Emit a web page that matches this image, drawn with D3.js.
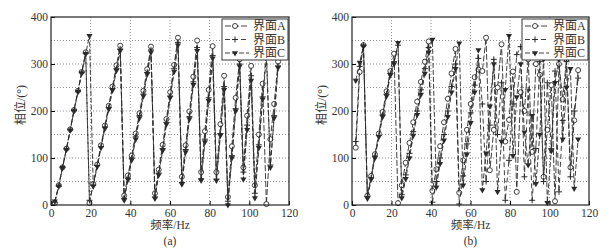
<!DOCTYPE html>
<html>
<head>
<meta charset="utf-8">
<script src="https://cdn.jsdelivr.net/npm/d3@7"></script>
<style>
    body { margin: 0; background: #fff; }
    svg text { font-family: "Liberation Serif", "Noto Sans CJK SC", serif; fill: #333; }
</style>
</head>
<body>
<div id="chart"></div>
<script>
// Frequency points (Hz), shared by both panels.
const FREQ = [1.9, 3.9, 5.8, 7.8, 9.7, 11.6, 13.6, 15.5, 17.5, 19.4,
    21.3, 23.3, 25.2, 27.2, 29.1, 31.0, 33.0, 34.9, 36.9, 38.8,
    40.7, 42.7, 44.6, 46.6, 48.5, 50.4, 52.4, 54.3, 56.3, 58.2,
    60.1, 62.1, 64.0, 66.0, 67.9, 69.8, 71.8, 73.7, 75.7, 77.6,
    79.5, 81.5, 83.4, 85.4, 87.3, 89.2, 91.2, 93.1, 95.1, 97.0,
    98.9, 100.9, 102.8, 104.8, 106.7, 108.6, 110.6, 112.5, 114.5];

// Panel (a) phase values (deg).
const PHASE_A_1 = [4, 42, 80, 120, 161, 202, 243, 283, 325, 4,
    45, 86, 127, 169, 211, 252, 297, 339, 20, 63,
    105, 152, 195, 243, 289, 337, 25, 75, 128, 183,
    240, 298, 356, 60, 127, 199, 273, 350, 70, 157,
    245, 338, 70, 172, 275, 17, 125, 228, 310, 80,
    190, 296, 42, 150, 258, 2, 140, 215, 305];
const PHASE_B_1 = [6, 40, 80, 119, 160, 201, 242, 282, 322, 10,
    42, 84, 124, 166, 207, 248, 290, 332, 14, 57,
    100, 145, 190, 236, 282, 330, 17, 68, 120, 176,
    232, 290, 346, 48, 118, 188, 262, 335, 56, 140,
    228, 318, 55, 152, 252, 8, 105, 205, 300, 70,
    170, 275, 25, 128, 230, 330, 85, 190, 296];
const PHASE_C_1 = [8, 40, 79, 118, 159, 200, 241, 281, 322, 360,
    40, 82, 122, 163, 204, 244, 286, 328, 10, 54,
    96, 140, 185, 232, 278, 325, 14, 64, 116, 172,
    228, 284, 340, 44, 113, 183, 256, 328, 52, 134,
    222, 312, 52, 148, 245, 0, 100, 200, 295, 55,
    160, 265, 15, 122, 225, 315, 80, 185, 292];

// Panel (b) phase values (deg).
const PHASE_A_2 = [122, 283, 340, 20, 62, 108, 152, 198, 242, 285,
    322, 4, 42, 90, 132, 176, 220, 262, 305, 348,
    30, 76, 125, 176, 226, 280, 332, 26, 95, 160,
    215, 272, 288, 285, 356, 74, 160, 250, 342, 135,
    181, 284, 28, 240, 200, 310, 113, 300, 277, 60,
    160, 255, 8, 300, 225, 310, 80, 180, 287];
const PHASE_B_2 = [135, 295, 340, 18, 58, 104, 148, 192, 236, 280,
    305, 340, 22, 64, 110, 156, 200, 245, 290, 335,
    6, 50, 100, 150, 200, 252, 300, 2, 62, 130,
    196, 255, 312, 215, 50, 170, 310, 150, 260, 10,
    95, 215, 320, 337, 60, 245, 10, 120, 305, 50,
    260, 120, 285, 28, 180, 305, 60, 200, 270];
const PHASE_C_2 = [265, 303, 338, 14, 55, 100, 145, 188, 232, 276,
    300, 345, 15, 56, 100, 148, 192, 235, 280, 325,
    352, 38, 88, 138, 188, 240, 290, 344, 42, 108,
    175, 240, 330, 32, 110, 210, 300, 28, 135, 245,
    360, 105, 230, 300, 155, 85, 190, 45, 150, 310,
    5, 115, 260, 310, 140, 250, 290, 35, 140];

const SERIES_NAMES = ['界面A', '界面B', '界面C'];
const X_TICKS = [0, 20, 40, 60, 80, 100, 120];
const Y_TICKS = [0, 100, 200, 300, 400];
const Y_GRID = [50, 100, 150, 200, 250, 300, 350];
const X_GRID = [20, 40, 60, 80, 100];

const config = {
    containerWidth: 611,
    containerHeight: 250,
    panels: [
        {left: 51, top: 17, width: 238, height: 188, caption: '(a)',
            series: [PHASE_A_1, PHASE_B_1, PHASE_C_1]},
        {left: 352, top: 17, width: 237, height: 188, caption: '(b)',
            series: [PHASE_A_2, PHASE_B_2, PHASE_C_2]}
    ],
    lineColor: '#2a2a2a',
    dash: ['6,2', '5,3', '5,2']
};

const svg = d3.select('#chart').append('svg')
    .attr('width', config.containerWidth)
    .attr('height', config.containerHeight);

// Draw a marker of series i at the current group.
const drawMarker = (g, i) => {
    if (i === 0) {
        g.append('circle').attr('r', 2.5)
            .attr('fill', '#fff').attr('stroke', config.lineColor).attr('stroke-width', 0.9);
    } else if (i === 1) {
        g.append('path').attr('d', 'M-3,0H3M0,-3V3')
            .attr('stroke', config.lineColor).attr('stroke-width', 1);
    } else {
        g.append('path').attr('d', d3.symbol(d3.symbolTriangle, 16)())
            .attr('transform', 'rotate(180)')
            .attr('fill', config.lineColor);
    }
};

config.panels.forEach(p => {
    const chart = svg.append('g').attr('transform', `translate(${p.left},${p.top})`);

    const xScale = d3.scaleLinear().domain([0, 120]).range([0, p.width]);
    const yScale = d3.scaleLinear().domain([0, 400]).range([p.height, 0]);

    // Dotted grid.
    chart.append('g').selectAll('line.gy')
        .data(Y_GRID).join('line')
        .attr('x1', 0).attr('x2', p.width)
        .attr('y1', d => yScale(d)).attr('y2', d => yScale(d))
        .attr('stroke', '#777').attr('stroke-width', 0.8).attr('stroke-dasharray', '1,2');
    chart.append('g').selectAll('line.gx')
        .data(X_GRID).join('line')
        .attr('x1', d => xScale(d)).attr('x2', d => xScale(d))
        .attr('y1', 0).attr('y2', p.height)
        .attr('stroke', '#777').attr('stroke-width', 0.8).attr('stroke-dasharray', '1,2');

    // Series lines and markers.
    const line = d3.line()
        .x((d, i) => xScale(FREQ[i]))
        .y(d => yScale(d));

    p.series.forEach((values, s) => {
        chart.append('path')
            .datum(values)
            .attr('d', line)
            .attr('fill', 'none')
            .attr('stroke', config.lineColor)
            .attr('stroke-width', 0.9)
            .attr('stroke-dasharray', config.dash[s]);

        chart.append('g').selectAll('g')
            .data(values).join('g')
            .attr('transform', (d, i) => `translate(${xScale(FREQ[i])},${yScale(d)})`)
            .each(function () { drawMarker(d3.select(this), s); });
    });

    // Axes with inward ticks.
    const xAxis = d3.axisBottom(xScale).tickValues(X_TICKS).tickSize(-4).tickPadding(4);
    const yAxis = d3.axisLeft(yScale).tickValues(Y_TICKS).tickSize(-4).tickPadding(3);

    chart.append('g')
        .attr('transform', `translate(0,${p.height})`)
        .call(xAxis)
        .call(g => g.select('.domain').remove())
        .call(g => g.selectAll('text').style('font-size', '11.5px'));
    chart.append('g')
        .call(yAxis)
        .call(g => g.select('.domain').remove())
        .call(g => g.selectAll('text').style('font-size', '11.5px'));

    // Frame.
    chart.append('rect')
        .attr('width', p.width).attr('height', p.height)
        .attr('fill', 'none').attr('stroke', '#222').attr('stroke-width', 1.2);

    // Legend.
    const legend = chart.append('g').attr('transform', `translate(${p.width - 67},2)`);
    legend.append('rect')
        .attr('width', 66).attr('height', 41)
        .attr('fill', '#fff').attr('stroke', '#222').attr('stroke-width', 0.9);
    SERIES_NAMES.forEach((name, s) => {
        const row = legend.append('g').attr('transform', `translate(0,${7 + s * 13.5})`);
        row.append('line')
            .attr('x1', 3).attr('x2', 27)
            .attr('stroke', config.lineColor).attr('stroke-width', 0.9)
            .attr('stroke-dasharray', config.dash[s]);
        drawMarker(row.append('g').attr('transform', 'translate(13,0)'), s);
        row.append('text')
            .attr('x', 31).attr('dy', '0.35em')
            .style('font-size', '12px')
            .text(name);
    });

    // Axis labels and caption.
    chart.append('text')
        .attr('x', p.width / 2).attr('y', p.height + 24)
        .attr('text-anchor', 'middle')
        .style('font-size', '11.5px')
        .text('频率/Hz');
    chart.append('text')
        .attr('x', p.width / 2).attr('y', p.height + 40)
        .attr('text-anchor', 'middle')
        .style('font-size', '11.5px')
        .text(p.caption);
    chart.append('text')
        .attr('transform', `translate(-26,${p.height / 2 - 6}) rotate(-90)`)
        .attr('text-anchor', 'middle')
        .style('font-size', '12px')
        .text('相位/(°)');
});
</script>
</body>
</html>
